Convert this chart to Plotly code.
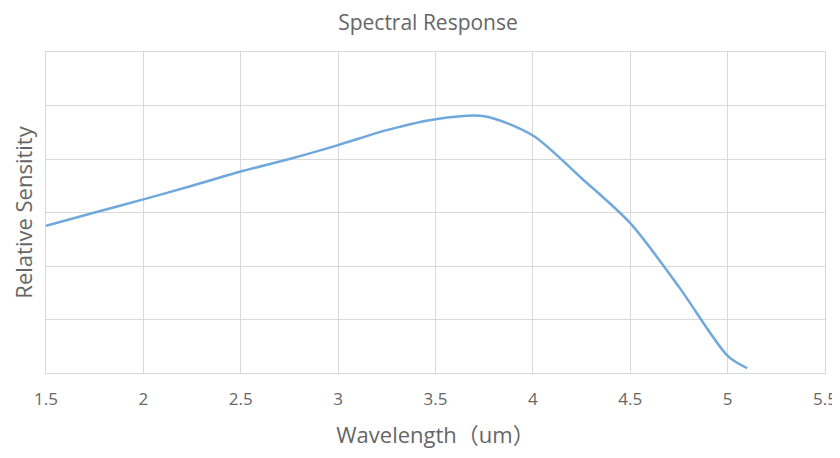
import plotly.graph_objects as go

wavelength = [1.5, 1.75, 2.0, 2.25, 2.5, 2.75, 3.0, 3.25, 3.5, 3.75, 4.0, 4.25, 4.5, 4.75, 5.0, 5.1]
sensitivity = [0.55, 0.60, 0.649, 0.70, 0.753, 0.80, 0.852, 0.908, 0.949, 0.960, 0.888, 0.728, 0.560, 0.322, 0.064, 0.018]

x_ticks = [1.5, 2, 2.5, 3, 3.5, 4, 4.5, 5, 5.5]
x_tick_labels = ["1.5", "2", "2.5", "3", "3.5", "4", "4.5", "5", "5.5"]

grid = "#d9d9d9"
txt = "#666666"
font_family = "Open Sans, Noto Sans CJK SC, sans-serif"

fig = go.Figure()
fig.add_trace(go.Scatter(
    x=wavelength, y=sensitivity, mode="lines",
    line=dict(color="#6fa8dc", width=2.5, shape="spline", smoothing=0.8),
    hoverinfo="skip", showlegend=False,
))

# the page body adds an 8px offset; margins compensate for it
fig.update_layout(
    width=840, height=458,
    margin=dict(l=38, r=23, t=44, b=93),
    paper_bgcolor="white", plot_bgcolor="white",
    title=dict(text="Spectral Response", x=0.5, xanchor="center", y=0.968, yanchor="middle",
               font=dict(family=font_family, size=21, color=txt)),
    font=dict(family=font_family, color=txt),
)
fig.update_xaxes(
    range=[1.5, 5.5], tickvals=x_ticks, ticktext=x_tick_labels,
    showgrid=True, gridcolor=grid, gridwidth=1,
    showline=True, linecolor=grid, linewidth=1, mirror=True,
    zeroline=False, ticks="outside", ticklen=11, tickcolor="rgba(0,0,0,0)",
    tickfont=dict(size=17, color=txt), automargin=False,
    title=dict(text="Wavelength（um）", font=dict(size=22, color=txt), standoff=18),
)
fig.update_yaxes(
    range=[0, 1.2], dtick=0.2, showticklabels=False,
    showgrid=True, gridcolor=grid, gridwidth=1,
    showline=True, linecolor=grid, linewidth=1, mirror=True,
    zeroline=False, automargin=False,
    title=dict(text="Relative Sensitity", font=dict(size=22, color=txt), standoff=8),
)

fig.write_html("out.html")
